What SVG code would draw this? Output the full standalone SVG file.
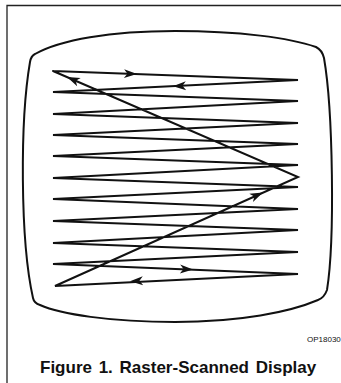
<svg xmlns="http://www.w3.org/2000/svg" xmlns:xlink="http://www.w3.org/1999/xlink" width="341" height="383" viewBox="0 0 341 383">
<style>
.ln{fill:none;stroke:#111;stroke-width:2;stroke-linejoin:miter;stroke-linecap:round}
.fr{fill:none;stroke:#222;stroke-width:1.3}
.ah{fill:#111}
.cap{font-family:"Liberation Sans",Arial,sans-serif;font-weight:bold;font-size:17px;fill:#111;word-spacing:2px}
.code{font-family:"Liberation Sans",Arial,sans-serif;font-size:8px;fill:#111}
</style>
<defs>
<path id="ah" d="M0,0 L-13,-4.5 L-9.5,0 L-13,4.5 Z"/>
</defs>
<rect width="341" height="383" fill="#fff"/>
<g id="frame">
<path class="fr" d="M7,383 L7,5.5 L341,5.5"/>
</g>
<g id="screen">
<path class="ln" d="M35,54 C60,40 110,31 175,31 C240,31 290,38 316,47 Q322,50 324,58 C333,110 335,240 327,290 Q324,298 318,300 C290,312 240,322 175,322 C110,322 60,314 40,305 Q34,303 33,298 C20,240 20,120 30,62 Q31,56 35,54 Z"/>
</g>
<g id="connectors">
<polyline class="ln" points="53,71 298,80 53,92 298,101 53,114 298,123 53,135 298,144 53,156 298,165 53,178 298,187 53,199 298,209 53,221 298,230 53,243 298,252 53,264 298,274 55,286 298,177 53,71"/>
<use class="ah" xlink:href="#ah" transform="translate(137,74.1) rotate(2.1)"/>
<use class="ah" xlink:href="#ah" transform="translate(173,86.3) rotate(177.1)"/>
<use class="ah" xlink:href="#ah" transform="translate(67,77) rotate(203.4)"/>
<use class="ah" xlink:href="#ah" transform="translate(263,192.6) rotate(-24)"/>
<use class="ah" xlink:href="#ah" transform="translate(193,269.4) rotate(2.2)"/>
<use class="ah" xlink:href="#ah" transform="translate(130,281.3) rotate(177.2)"/>
</g>
<g id="labels">
<text class="code" x="307" y="342">OP18030</text>
<text class="cap" x="40" y="373">Figure 1. Raster-Scanned Display</text>
</g>
</svg>
